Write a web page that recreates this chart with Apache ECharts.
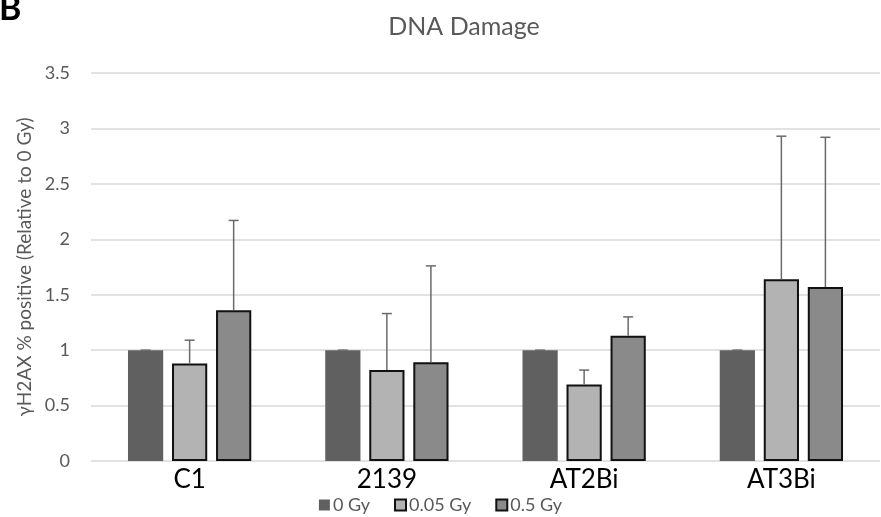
<!DOCTYPE html>
<html>
<head>
<meta charset="utf-8">
<script src="https://cdn.jsdelivr.net/npm/echarts@6/dist/echarts.min.js"></script>
<style>
  html, body { margin: 0; padding: 0; background: #fff; }
  #chart { width: 881px; height: 517px; }
</style>
</head>
<body>
<div id="chart"></div>
<script>
const categories = ['C1', '2139', 'AT2Bi', 'AT3Bi'];
const seriesNames = ['0 Gy', '0.05 Gy', '0.5 Gy'];
const gy0 = [1, 1, 1, 1];
const gy005 = [0.88, 0.82, 0.69, 1.64];
const gy05 = [1.36, 0.89, 1.13, 1.57];
// upper ends of the error bars
const gy0Upper = [1, 1, 1, 1];
const gy005Upper = [1.09, 1.33, 0.82, 2.93];
const gy05Upper = [2.17, 1.76, 1.30, 2.92];
const yTicks = [0, 0.5, 1, 1.5, 2, 2.5, 3, 3.5];

const colors = ['#606060', '#b3b3b3', '#8a8a8a'];
const catGap = 0.375;
const barGap = 0.25;
const font = 'Lato, "Open Sans", sans-serif';

const chart = echarts.init(document.getElementById('chart'));

function errorSeries(idx, values, uppers) {
    return {
        type: 'custom',
        name: seriesNames[idx] + ' err',
        z: 5,
        silent: true,
        data: values.map((v, i) => [i, v, uppers[i]]),
        renderItem: function (params, api) {
            const band = api.size([1, 0])[0];
            const usable = band * (1 - catGap);
            const bw = usable / (3 + 2 * barGap);
            const base = api.coord([api.value(0), 0]);
            const cx = base[0] - usable / 2 + idx * bw * (1 + barGap) + bw / 2;
            const yTop = api.coord([api.value(0), api.value(1)])[1];
            const yUp = api.coord([api.value(0), api.value(2)])[1];
            const half = 5;
            const style = { stroke: '#6a6a6a', lineWidth: 1.5 };
            return {
                type: 'group',
                children: [
                    { type: 'line', shape: { x1: cx, y1: yTop, x2: cx, y2: yUp }, style: style },
                    { type: 'line', shape: { x1: cx - half, y1: yUp, x2: cx + half, y2: yUp }, style: style }
                ]
            };
        }
    };
}

const option = {
    animation: false,
    textStyle: { fontFamily: font },
    title: {
        text: 'DNA Damage',
        left: 459,
        top: 9,
        textAlign: 'center',
        textStyle: { color: '#595959', fontSize: 25, fontWeight: 'normal', fontFamily: font }
    },
    graphic: [{
        type: 'text',
        left: -1,
        top: -8,
        style: { text: 'B', font: 'bold 34px ' + font, fill: '#000' }
    }],
    legend: {
        bottom: -2,
        left: 'center',
        data: seriesNames,
        icon: 'rect',
        itemWidth: 11,
        itemHeight: 11,
        itemGap: 24,
        textStyle: { color: '#595959', fontSize: 18, fontFamily: font, padding: [0, 0, 0, -2] }
    },
    grid: { left: 91, right: 1, top: 73, bottom: 56 },
    xAxis: {
        type: 'category',
        data: categories,
        axisLine: { show: false },
        axisTick: { show: false },
        axisLabel: { color: '#000', fontSize: 26, margin: 6, fontFamily: font }
    },
    yAxis: {
        type: 'value',
        min: yTicks[0],
        max: yTicks[yTicks.length - 1],
        interval: 0.5,
        name: 'γH2AX % positive (Relative to 0 Gy)',
        nameLocation: 'middle',
        nameGap: 52,
        nameTextStyle: { color: '#595959', fontSize: 19, fontFamily: font },
        axisLine: { show: false },
        axisTick: { show: false },
        axisLabel: { color: '#595959', fontSize: 18, margin: 21, fontFamily: font },
        splitLine: { lineStyle: { color: '#d9d9d9', width: 1.5 } }
    },
    series: [
        {
            type: 'bar', name: seriesNames[0], data: gy0,
            barCategoryGap: (catGap * 100) + '%', barGap: (barGap * 100) + '%',
            itemStyle: { color: colors[0] }
        },
        {
            type: 'bar', name: seriesNames[1], data: gy005,
            itemStyle: { color: colors[1], borderColor: '#111', borderWidth: 2 }
        },
        {
            type: 'bar', name: seriesNames[2], data: gy05,
            itemStyle: { color: colors[2], borderColor: '#111', borderWidth: 2 }
        },
        errorSeries(0, gy0, gy0Upper),
        errorSeries(1, gy005, gy005Upper),
        errorSeries(2, gy05, gy05Upper)
    ]
};

chart.setOption(option);
window.addEventListener('resize', () => chart.resize());
</script>
</body>
</html>
